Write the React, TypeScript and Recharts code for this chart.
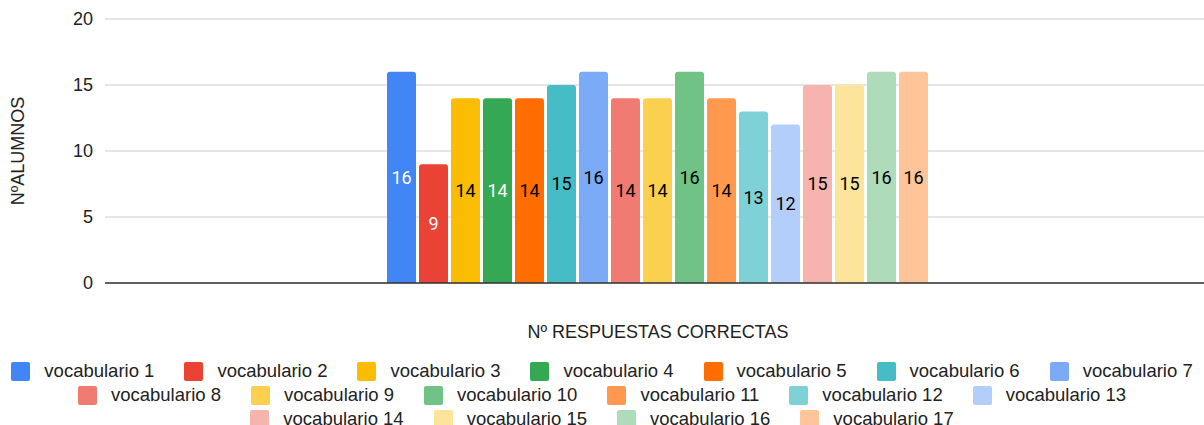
import { BarChart, Bar, XAxis, YAxis, CartesianGrid, LabelList } from 'recharts';

const series = [
  'vocabulario 1', 'vocabulario 2', 'vocabulario 3', 'vocabulario 4', 'vocabulario 5',
  'vocabulario 6', 'vocabulario 7', 'vocabulario 8', 'vocabulario 9', 'vocabulario 10',
  'vocabulario 11', 'vocabulario 12', 'vocabulario 13', 'vocabulario 14', 'vocabulario 15',
  'vocabulario 16', 'vocabulario 17',
];
const values = [16, 9, 14, 14, 14, 15, 16, 14, 14, 16, 14, 13, 12, 15, 15, 16, 16];
const yTicks = [0, 5, 10, 15, 20];

const COLORS = [
  '#4285F4', '#EA4335', '#FBBC04', '#34A853', '#FF6D01', '#46BDC6', '#7BAAF7', '#F07B72',
  '#FCD04F', '#71C287', '#FF994D', '#7ED1D7', '#B3CEFB', '#F7B4AE', '#FDE49B', '#AEDCBA', '#FFC599',
];
const LABEL_COLORS = [
  '#fff', '#fff', '#000', '#fff', '#000', '#000', '#000', '#000',
  '#000', '#000', '#000', '#000', '#000', '#000', '#000', '#000', '#000',
];
const LEGEND_ROWS = [7, 6, 4];

const row: Record<string, string | number> = { name: '' };
series.forEach((s, i) => {
  row[s] = values[i];
});
const data = [row];

const FONT = 'Arial, "Liberation Sans", sans-serif';

function LegendBlock() {
  let start = 0;
  const rows = LEGEND_ROWS.map((n) => {
    const items = series.slice(start, start + n).map((s, j) => ({ name: s, color: COLORS[start + j] }));
    start += n;
    return items;
  });
  return (
    <div style={{ width: 1204, paddingTop: 16, fontFamily: FONT, fontSize: 18.5, color: '#222' }}>
      {rows.map((items, r) => (
        <div key={r} style={{ display: 'flex', justifyContent: 'center', height: 24, alignItems: 'center' }}>
          {items.map((it) => (
            <div key={it.name} style={{ display: 'flex', alignItems: 'center', margin: '0 15px' }}>
              <span
                style={{ width: 19, height: 19, borderRadius: 2, background: it.color, display: 'inline-block', marginRight: 14 }}
              />
              <span style={{ whiteSpace: 'nowrap' }}>{it.name}</span>
            </div>
          ))}
        </div>
      ))}
    </div>
  );
}

export default function App() {
  return (
    <div style={{ position: 'absolute', left: 0, top: 0, width: 1204, height: 425, overflow: 'hidden', background: '#fff' }}>
      <BarChart
        width={1211}
        height={343}
        data={data}
        margin={{ top: 19, right: 0, bottom: 0, left: 0 }}
        barCategoryGap={282}
        barGap={3}
      >
        <CartesianGrid vertical={false} stroke="#cccccc" />
        <XAxis
          dataKey="name"
          tick={false}
          tickLine={false}
          axisLine={{ stroke: '#333', strokeWidth: 1.5 }}
          height={60}
          label={{
            value: 'Nº RESPUESTAS CORRECTAS',
            position: 'insideBottom',
            offset: 5,
            style: { fontFamily: FONT, fontSize: 18, fill: '#222' },
          }}
        />
        <YAxis
          width={105}
          domain={[0, 20]}
          ticks={yTicks}
          axisLine={false}
          tickLine={false}
          tickSize={0}
          tickMargin={12}
          tick={{ fontFamily: FONT, fontSize: 18, fill: '#222' }}
          label={{
            value: 'NºALUMNOS',
            angle: -90,
            position: 'insideLeft',
            offset: 18,
            style: { textAnchor: 'middle', fontFamily: FONT, fontSize: 18, fill: '#222' },
          }}
        />
        {series.map((s, i) => (
          <Bar key={s} dataKey={s} fill={COLORS[i]} radius={[3, 3, 0, 0]} isAnimationActive={false}>
            <LabelList
              dataKey={s}
              position="center"
              fill={LABEL_COLORS[i]}
              style={{ fontFamily: 'Roboto, sans-serif', fontSize: 18 }}
            />
          </Bar>
        ))}
      </BarChart>
      <LegendBlock />
    </div>
  );
}
